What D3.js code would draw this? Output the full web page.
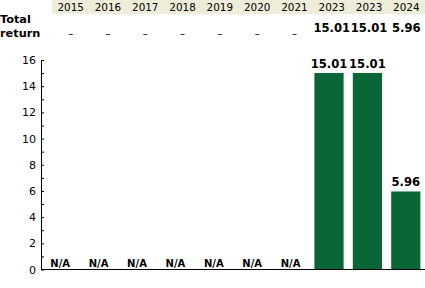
<!DOCTYPE html>
<html>
<head>
<meta charset="utf-8">
<script src="https://cdn.jsdelivr.net/npm/d3@7"></script>
<style>
  body { margin: 0; background: #fff; }
  text { font-family: "DejaVu Sans", Verdana, sans-serif; }
</style>
</head>
<body>
<div id="chart"></div>
<script>
// Chart data
var years = ["2015", "2016", "2017", "2018", "2019", "2020", "2021", "2023", "2023", "2024"];
var totalReturn = [null, null, null, null, null, null, null, 15.01, 15.01, 5.96];
var yTicks = [0, 2, 4, 6, 8, 10, 12, 14, 16];
var yMinorTicks = [1, 3, 5, 7, 9, 11, 13, 15];

var W = 425, H = 288;

var svg = d3.select("#chart")
  .append("svg")
    .attr("width", W)
    .attr("height", H);

var idx = d3.range(years.length);

// Header table on top
var hx = d3.scaleBand().domain(idx).range([52, 425]);

svg.append("rect")
    .attr("x", 52)
    .attr("y", 0)
    .attr("width", 373)
    .attr("height", 14)
    .attr("fill", "#eeedd9");

svg.selectAll(".year")
  .data(idx)
  .enter().append("text")
    .attr("class", "year")
    .attr("x", function(i) { return hx(i) + hx.bandwidth() / 2; })
    .attr("y", 11)
    .attr("text-anchor", "middle")
    .style("font-size", "10.4px")
    .text(function(i) { return years[i]; });

svg.append("text")
    .attr("x", 0)
    .attr("y", 23)
    .style("font-size", "11.3px")
    .style("font-weight", "bold")
    .text("Total");

svg.append("text")
    .attr("x", 0)
    .attr("y", 37)
    .style("font-size", "11.3px")
    .style("font-weight", "bold")
    .text("return");

svg.selectAll(".hval")
  .data(idx)
  .enter().append("text")
    .attr("class", "hval")
    .attr("x", function(i) { return hx(i) + hx.bandwidth() / 2; })
    .attr("y", function(i) { return totalReturn[i] == null ? 37 : 32; })
    .attr("text-anchor", "middle")
    .style("font-size", function(i) { return totalReturn[i] == null ? "10px" : "11.6px"; })
    .style("font-weight", function(i) { return totalReturn[i] == null ? "normal" : "bold"; })
    .text(function(i) { return totalReturn[i] == null ? "–" : totalReturn[i].toFixed(2); });

// Bar chart
var x = d3.scaleBand().domain(idx).range([41, 425]).paddingInner(0.24).paddingOuter(0.12);
var y = d3.scaleLinear().domain([0, 16]).range([269.5, 60]);

svg.selectAll(".bar")
  .data(idx.filter(function(i) { return totalReturn[i] != null; }))
  .enter().append("rect")
    .attr("class", "bar")
    .attr("x", function(i) { return x(i); })
    .attr("y", function(i) { return y(totalReturn[i]); })
    .attr("width", x.bandwidth())
    .attr("height", function(i) { return y(0) - y(totalReturn[i]); })
    .attr("fill", "#096637");

// Labels above bars, N/A where no value
svg.selectAll(".blabel")
  .data(idx)
  .enter().append("text")
    .attr("class", "blabel")
    .attr("x", function(i) { return x(i) + x.bandwidth() / 2; })
    .attr("y", function(i) { return totalReturn[i] == null ? y(0) - 3 : y(totalReturn[i]) - 5; })
    .attr("text-anchor", "middle")
    .style("font-size", function(i) { return totalReturn[i] == null ? "10px" : "11.6px"; })
    .style("font-weight", "bold")
    .text(function(i) { return totalReturn[i] == null ? "N/A" : totalReturn[i].toFixed(2); });

// Y axis, ticks cross the line
var yAxis = svg.append("g")
    .attr("transform", "translate(41,0)")
    .call(d3.axisLeft(y).tickValues(yTicks).tickSize(3).tickSizeOuter(0).tickPadding(2));
yAxis.selectAll(".tick line").attr("x2", 3);
yAxis.selectAll(".tick text").style("font-size", "11px").style("font-family", "DejaVu Sans, Verdana, sans-serif");

var yMinor = svg.append("g")
    .attr("transform", "translate(41,0)")
    .call(d3.axisLeft(y).tickValues(yMinorTicks).tickSize(3).tickSizeOuter(0).tickFormat(""));
yMinor.select(".domain").remove();
yMinor.selectAll(".tick line").attr("x2", 3);

// X baseline
svg.append("line")
    .attr("x1", 41)
    .attr("x2", 425)
    .attr("y1", y(0))
    .attr("y2", y(0))
    .attr("stroke", "#000");
</script>
</body>
</html>
